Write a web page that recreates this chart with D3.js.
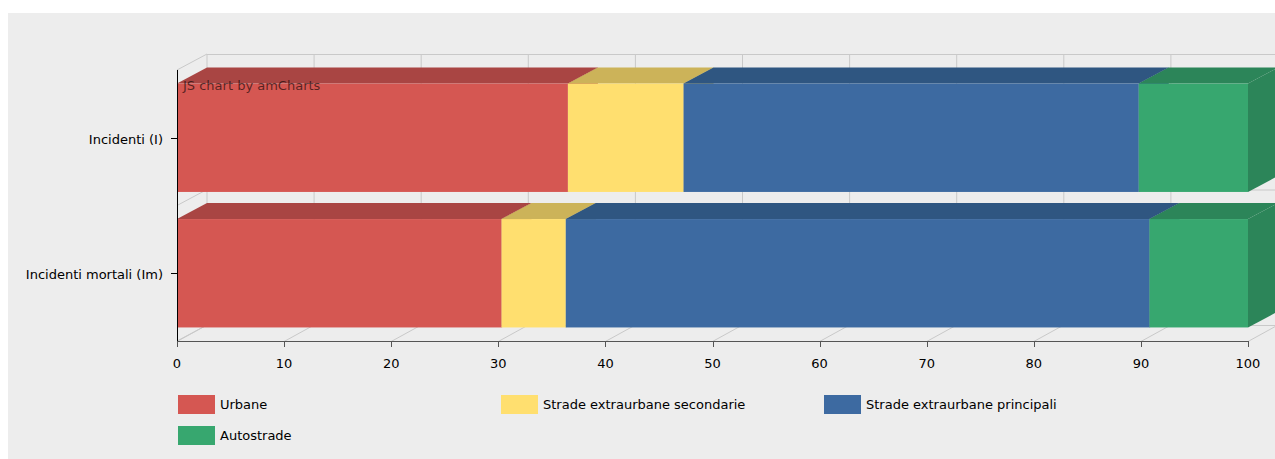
<!DOCTYPE html>
<html>
<head>
<meta charset="utf-8">
<script src="https://cdn.jsdelivr.net/npm/d3@7"></script>
<style>
  body { margin: 0; background: #fff; }
  svg { display: block; font-family: "DejaVu Sans", Verdana, sans-serif; }
</style>
</head>
<body>
<svg id="canvas" width="1275" height="459"></svg>
<script>
// chart data
let categories = ["Incidenti (I)", "Incidenti mortali (Im)"];
let seriesNames = ["Urbane", "Strade extraurbane secondarie", "Strade extraurbane principali", "Autostrade"];
let urbane = [36.5, 30.3];
let secondarie = [10.8, 6.0];
let principali = [42.5, 54.5];
let autostrade = [10.2, 9.2];
let xTicks = [0, 10, 20, 30, 40, 50, 60, 70, 80, 90, 100];

let frontColors = ["#d55752", "#ffdf6f", "#3d6aa1", "#37a76f"];
let topColors = ["#a94543", "#ccb359", "#2f5681", "#2c8559"];

let canvas = d3.select("#canvas");

// depth of the 3d effect
let dx = 30;
let dy = -16;
let fontSize = 13;

let x = d3.scaleLinear().domain([0, 100]).range([177, 1248]);
let y = d3.scaleBand().domain(categories).range([70, 341]).paddingInner(0.2).paddingOuter(0.1);

// build rows for the stack
let rows = categories.map((c, i) => {
  return {
    cat: c,
    "Urbane": urbane[i],
    "Strade extraurbane secondarie": secondarie[i],
    "Strade extraurbane principali": principali[i],
    "Autostrade": autostrade[i]
  };
});
let stacked = d3.stack().keys(seriesNames)(rows);

// panel background
canvas.append("rect")
  .attr("x", 8).attr("y", 13)
  .attr("width", 1267).attr("height", 446)
  .attr("fill", "#ededed");

let gridColor = "#c9c9c9";
let grid = canvas.append("g").attr("stroke", gridColor).attr("stroke-width", 1).attr("fill", "none");

let top0 = y.range()[0];
let bottom0 = y.range()[1];
let bandEdges = [top0, top0 + y.step(), bottom0];

// back wall vertical grid
xTicks.forEach((t) => {
  grid.append("line")
    .attr("x1", x(t) + dx).attr("x2", x(t) + dx)
    .attr("y1", top0 + dy).attr("y2", bottom0 + dy);
  // floor lines
  grid.append("line")
    .attr("x1", x(t)).attr("x2", x(t) + dx)
    .attr("y1", bottom0 + 0.5).attr("y2", bottom0 + dy);
});

// back wall horizontal lines and left wall diagonals
bandEdges.forEach((e) => {
  grid.append("line")
    .attr("x1", x(0) + dx).attr("x2", x(100) + dx)
    .attr("y1", e + dy + 0.5).attr("y2", e + dy + 0.5);
  grid.append("line")
    .attr("x1", x(0)).attr("x2", x(0) + dx)
    .attr("y1", e).attr("y2", e + dy);
});

// bars, drawn as boxes: front, top and right side
let bars = canvas.append("g");
categories.forEach((c, ci) => {
  stacked.forEach((s, si) => {
    let d = s[ci];
    let x0 = x(d[0]);
    let x1 = x(d[1]);
    let yt = y(c);
    let yb = y(c) + y.bandwidth();
    bars.append("path")
      .attr("d", `M${x1},${yt}L${x1 + dx},${yt + dy}L${x1 + dx},${yb + dy}L${x1},${yb}Z`)
      .attr("fill", topColors[si]);
    bars.append("path")
      .attr("d", `M${x0},${yt}L${x0 + dx},${yt + dy}L${x1 + dx},${yt + dy}L${x1},${yt}Z`)
      .attr("fill", topColors[si]);
    bars.append("rect")
      .attr("x", x0).attr("y", yt)
      .attr("width", x1 - x0).attr("height", yb - yt)
      .attr("fill", frontColors[si]);
  });
});

// y axis
canvas.append("line")
  .attr("x1", x(0) + 0.5).attr("x2", x(0) + 0.5)
  .attr("y1", top0).attr("y2", bottom0)
  .attr("stroke", "#000");
categories.forEach((c) => {
  let cy = Math.round(y(c) + y.bandwidth() / 2) + 0.5;
  canvas.append("line")
    .attr("x1", x(0) - 6).attr("x2", x(0))
    .attr("y1", cy).attr("y2", cy)
    .attr("stroke", "#000");
  canvas.append("text")
    .attr("x", x(0) - 14).attr("y", cy + 5)
    .attr("text-anchor", "end")
    .attr("font-size", fontSize)
    .attr("fill", "#000")
    .text(c);
});

// x axis
canvas.append("line")
  .attr("x1", x(0)).attr("x2", x(100))
  .attr("y1", bottom0 + 0.5).attr("y2", bottom0 + 0.5)
  .attr("stroke", "#555");
xTicks.forEach((t) => {
  canvas.append("line")
    .attr("x1", Math.round(x(t)) + 0.5).attr("x2", Math.round(x(t)) + 0.5)
    .attr("y1", bottom0).attr("y2", bottom0 + 6)
    .attr("stroke", "#555");
  canvas.append("text")
    .attr("x", x(t)).attr("y", bottom0 + 27)
    .attr("text-anchor", "middle")
    .attr("font-size", fontSize)
    .attr("fill", "#000")
    .text(t);
});

// credit text
canvas.append("text")
  .attr("x", 183).attr("y", 90)
  .attr("font-size", fontSize)
  .attr("fill", "#000")
  .attr("fill-opacity", 0.6)
  .text("JS chart by amCharts");

// legend
let legend = canvas.append("g");
seriesNames.forEach((name, i) => {
  let col = i % 3;
  let row = Math.floor(i / 3);
  let lx = 178 + col * 323;
  let ly = 395 + row * 31;
  legend.append("rect")
    .attr("x", lx).attr("y", ly)
    .attr("width", 37).attr("height", 19)
    .attr("fill", frontColors[i]);
  legend.append("text")
    .attr("x", lx + 42).attr("y", ly + 14)
    .attr("font-size", fontSize)
    .attr("fill", "#000")
    .text(name);
});
</script>
</body>
</html>
